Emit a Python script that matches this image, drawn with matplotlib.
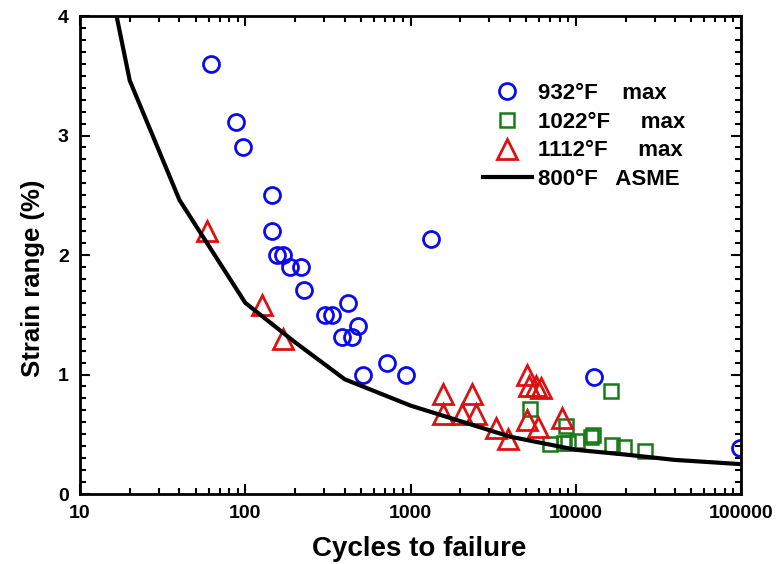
import numpy as np
import matplotlib
matplotlib.use('Agg')
import matplotlib.pyplot as plt
from matplotlib.ticker import MultipleLocator, LogLocator, NullFormatter, FixedFormatter, FixedLocator

plt.rcParams['font.family'] = ['Liberation Sans', 'DejaVu Sans']
plt.rcParams['font.weight'] = 'bold'

# 932F max (circles)
n_932 = [62, 97, 88, 145, 145, 155, 170, 186, 218, 227, 417, 302, 335, 479, 385, 443, 721, 516, 935, 1330, 12900, 98000]
e_932 = [3.6, 2.9, 3.11, 2.5, 2.2, 2.0, 2.0, 1.9, 1.9, 1.71, 1.6, 1.5, 1.5, 1.41, 1.31, 1.31, 1.1, 1.0, 1.0, 2.13, 0.98, 0.385]

# 1022F max (squares)
n_1022 = [16300, 5280, 8700, 6980, 8510, 8980, 10200, 12400, 12800, 16600, 19500, 26300]
e_1022 = [0.86, 0.71, 0.57, 0.42, 0.43, 0.43, 0.44, 0.48, 0.49, 0.41, 0.39, 0.36]

# 1112F max (triangles)
n_1112 = [59, 126, 170, 1570, 2350, 1570, 2040, 2500, 3300, 3900, 5070, 5200, 5760, 6150, 5070, 5900, 8260]
e_1112 = [2.2, 1.58, 1.3, 0.84, 0.84, 0.67, 0.67, 0.67, 0.55, 0.46, 1.0, 0.9, 0.9, 0.89, 0.62, 0.56, 0.64]

# 800F ASME design curve
n_asme = [10, 20, 40, 100, 200, 400, 1000, 2000, 4000, 10000, 20000, 40000, 100000]
e_asme = [5.5, 3.46, 2.46, 1.6, 1.27, 0.96, 0.74, 0.61, 0.48, 0.37, 0.33, 0.285, 0.25]

xtick_vals = [10, 100, 1000, 10000, 100000]
xtick_labels = ['10', '100', '1000', '10000', '100000']

fig = plt.figure(figsize=(7.82, 5.64), dpi=100)
ax = fig.add_axes([0.1023, 0.1241, 0.8453, 0.8475])

ax.plot(n_932, e_932, marker='o', color='#0a0af0', label='932°F    max', linestyle='none',
        markerfacecolor='none', markersize=11.5, markeredgewidth=2.0)
ax.plot(n_1022, e_1022, marker='s', color='#1a7a1a', label='1022°F     max', markersize=10,
        linestyle='none', markerfacecolor='none', markeredgewidth=1.8)
ax.plot(n_1112, e_1112, marker='^', color='#dd1111', label='1112°F     max', markersize=14,
        linestyle='none', markerfacecolor='none', markeredgewidth=2.0)
ax.plot(n_asme, e_asme, color='black', linewidth=3, label='800°F   ASME')

ax.set_xscale('log')
ax.set_xlim(10, 100000)
ax.set_ylim(0, 4)

ax.xaxis.set_major_locator(FixedLocator(xtick_vals))
ax.xaxis.set_major_formatter(FixedFormatter(xtick_labels))
ax.xaxis.set_minor_locator(LogLocator(base=10, subs=np.arange(2, 10)))
ax.xaxis.set_minor_formatter(NullFormatter())
ax.yaxis.set_major_locator(MultipleLocator(1))
ax.yaxis.set_minor_locator(MultipleLocator(0.1))

ax.tick_params(which='both', direction='in', top=True, right=True, width=1.5, labelsize=14, pad=8)
ax.tick_params(which='major', length=7)
ax.tick_params(which='minor', length=4)
for s in ax.spines.values():
    s.set_linewidth(2)
for lab in ax.get_xticklabels() + ax.get_yticklabels():
    lab.set_fontweight('bold')

ax.set_xlabel('Cycles to failure', fontsize=20, fontweight='bold')
ax.set_ylabel('Strain range (%)', fontsize=18.5, fontweight='bold')
ax.xaxis.set_label_coords(0.513, -0.088)
ax.yaxis.set_label_coords(-0.053, 0.452)

leg = ax.legend(loc='upper left', bbox_to_anchor=(0.579, 0.902), frameon=False,
                prop={'size': 16, 'weight': 'bold'}, handlelength=2.2,
                handletextpad=0.3, labelspacing=0.35, borderpad=0.4)

fig.savefig('out.png', dpi=100)
